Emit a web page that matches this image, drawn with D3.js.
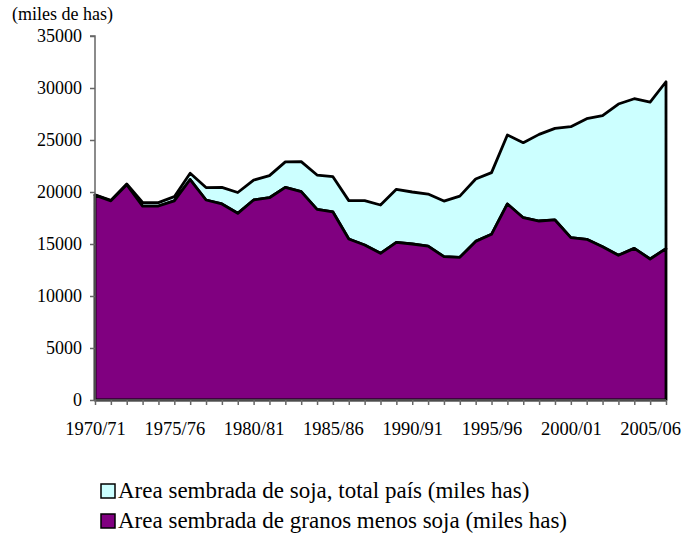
<!doctype html>
<html lang="es">
<head>
<meta charset="utf-8">
<title>Area sembrada</title>
<script src="https://cdn.jsdelivr.net/npm/d3@7"></script>
<style>
  body { margin: 0; background: #fff; }
  svg text { font-family: "Liberation Serif", "Times New Roman", serif; fill: #000; }
</style>
</head>
<body>
<svg id="chart"></svg>
<script>
    // campañas (categorias del eje x)
    const campanias = ["1970/71","1971/72","1972/73","1973/74","1974/75","1975/76","1976/77","1977/78",
        "1978/79","1979/80","1980/81","1981/82","1982/83","1983/84","1984/85","1985/86","1986/87",
        "1987/88","1988/89","1989/90","1990/91","1991/92","1992/93","1993/94","1994/95","1995/96",
        "1996/97","1997/98","1998/99","1999/00","2000/01","2001/02","2002/03","2003/04","2004/05",
        "2005/06","2006/07"];

    // miles de has
    const granosMenosSoja = [19700, 19150, 20700, 18650, 18650, 19150, 21200, 19230, 18850, 17950,
        19230, 19450, 20450, 20030, 18330, 18080, 15480, 14900, 14100, 15160, 15000, 14800, 13780,
        13720, 15250, 15930, 18850, 17530, 17210, 17310, 15610, 15450, 14740, 13910, 14580, 13560, 14550];
    const soja = [30, 40, 80, 350, 330, 400, 600, 1200, 1600, 2000, 1920, 2120, 2450, 2890, 3300,
        3390, 3690, 4265, 4650, 5100, 5000, 5000, 5350, 5880, 6000, 5930, 6630, 7210, 8330, 8810,
        10670, 11600, 12600, 14550, 14390, 15090, 16050];

    const yTicks = [0, 5000, 10000, 15000, 20000, 25000, 30000, 35000];
    const xLabels = ["1970/71","1975/76","1980/81","1985/86","1990/91","1995/96","2000/01","2005/06"];

    const W = 686, H = 546;
    const margin = { top: 36, right: 20, bottom: 146, left: 95 };

    const svg = d3.select("#chart").attr("width", W).attr("height", H);

    const x = d3.scalePoint().domain(campanias).range([margin.left, W - margin.right]);
    const y = d3.scaleLinear().domain([0, 35000]).range([H - margin.bottom, margin.top]);

    const rows = campanias.map((c, i) => ({ c: c, g: granosMenosSoja[i], s: soja[i] }));

    const areaGranos = d3.area()
        .x(d => x(d.c))
        .y0(y(0))
        .y1(d => y(d.g));

    const areaSoja = d3.area()
        .x(d => x(d.c))
        .y0(d => y(d.g))
        .y1(d => y(d.g + d.s));

    svg.append("path")
        .datum(rows)
        .attr("d", areaSoja)
        .attr("fill", "#ccffff")
        .attr("stroke", "#000")
        .attr("stroke-width", 2.8)
        .attr("stroke-linejoin", "round");

    svg.append("path")
        .datum(rows)
        .attr("d", areaGranos)
        .attr("fill", "#800080")
        .attr("stroke", "#000")
        .attr("stroke-width", 2.8)
        .attr("stroke-linejoin", "round");

    // eje y
    const gy = svg.append("g")
        .attr("transform", `translate(${margin.left},0)`)
        .call(d3.axisLeft(y).tickValues(yTicks).tickSize(5).tickPadding(8).tickFormat(d3.format("d")));
    gy.selectAll("text").style("font-size", "18px");

    // eje x
    const gx = svg.append("g")
        .attr("transform", `translate(0,${y(0)})`)
        .call(d3.axisBottom(x).tickSize(5).tickPadding(17)
            .tickFormat(d => xLabels.includes(d) ? d : ""));
    gx.selectAll("text").style("font-size", "18.5px");

    svg.selectAll(".domain, .tick line")
        .attr("stroke", "#666")
        .attr("stroke-width", 1.5);
    gy.select(".domain").attr("d", `M-5,${y(35000)}H0V${y(0)}`);
    gx.select(".domain").attr("d", `M${margin.left},0H${W - margin.right}`);

    svg.append("text")
        .attr("x", 12)
        .attr("y", 20)
        .style("font-size", "18px")
        .text("(miles de has)");

    // leyenda
    const legend = [
        { label: "Area sembrada de soja, total país (miles has)", color: "#ccffff" },
        { label: "Area sembrada de granos menos soja (miles has)", color: "#800080" }
    ];
    const lg = svg.selectAll("g.legend")
        .data(legend)
        .enter().append("g")
        .attr("class", "legend")
        .attr("transform", (d, i) => `translate(101,${484 + i * 30})`);
    lg.append("rect")
        .attr("width", 14)
        .attr("height", 14)
        .attr("fill", d => d.color)
        .attr("stroke", "#000")
        .attr("stroke-width", 1.5);
    lg.append("text")
        .attr("x", 17)
        .attr("y", 14)
        .style("font-size", "23px")
        .text(d => d.label);
</script>
</body>
</html>
